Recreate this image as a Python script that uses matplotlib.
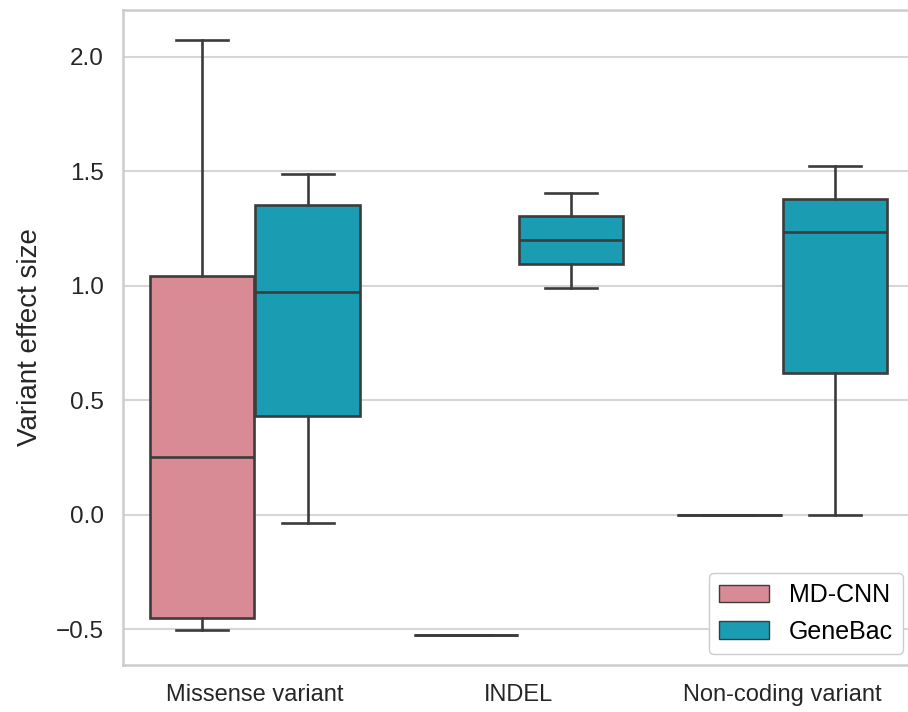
import matplotlib
matplotlib.use("Agg")
import matplotlib.pyplot as plt
from matplotlib.patches import Patch

# categories and models
categories = ['Missense variant', 'INDEL', 'Non-coding variant']
models = ['MD-CNN', 'GeneBac']
colors = ['#d88b94', '#1a9db2']

# box statistics: (whislo, q1, median, q3, whishi) per category
mdcnn_whislo = [-0.503, -0.526, 0.0]
mdcnn_q1 = [-0.451, -0.526, 0.0]
mdcnn_med = [0.251, -0.526, 0.0]
mdcnn_q3 = [1.041, -0.526, 0.0]
mdcnn_whishi = [2.075, -0.526, 0.0]

genebac_whislo = [-0.037, 0.992, 0.0]
genebac_q1 = [0.430, 1.097, 0.618]
genebac_med = [0.971, 1.202, 1.237]
genebac_q3 = [1.355, 1.303, 1.381]
genebac_whishi = [1.490, 1.407, 1.525]

plt.rcParams['font.family'] = ['Liberation Sans', 'DejaVu Sans']

fig = plt.figure(figsize=(9.08, 7.12), dpi=100)
ax = fig.add_axes([123 / 908, 47 / 712, 791 / 908, 655 / 712])

edge = '#3c3c3c'
lw = 1.9


def make_stats(lo, q1, med, q3, hi):
    return [dict(whislo=a, q1=b, med=c, q3=d, whishi=e, fliers=[])
            for a, b, c, d, e in zip(lo, q1, med, q3, hi)]


series = [
    make_stats(mdcnn_whislo, mdcnn_q1, mdcnn_med, mdcnn_q3, mdcnn_whishi),
    make_stats(genebac_whislo, genebac_q1, genebac_med, genebac_q3, genebac_whishi),
]
offsets = [-0.2, 0.2]
width = 0.395

for stats, off, col in zip(series, offsets, colors):
    ax.bxp(stats, positions=[i + off for i in range(len(categories))],
           widths=width, patch_artist=True, showfliers=False,
           capwidths=width / 2, manage_ticks=False,
           boxprops=dict(facecolor=col, edgecolor=edge, linewidth=lw),
           medianprops=dict(color=edge, linewidth=lw),
           whiskerprops=dict(color=edge, linewidth=lw),
           capprops=dict(color=edge, linewidth=lw))

ax.set_xlim(-0.5, 2.5)
ax.set_ylim(-0.657, 2.205)
ax.set_xticks(range(len(categories)))
ax.set_xticklabels(categories)
ax.set_yticks([-0.5, 0.0, 0.5, 1.0, 1.5, 2.0])
ax.set_ylabel('Variant effect size', fontsize=20, labelpad=9, color='#262626')
ax.tick_params(axis='x', length=0, pad=14, labelsize=17, labelcolor='#262626')
ax.tick_params(axis='y', length=0, pad=14, labelsize=17.5, labelcolor='#262626')

ax.grid(axis='y', color='#d6d6d6', linewidth=1.5)
ax.set_axisbelow(True)
for s in ax.spines.values():
    s.set_color('#cccccc')
    s.set_linewidth(1.8)

handles = [Patch(facecolor=c, edgecolor=edge, linewidth=1.0, label=m)
           for m, c in zip(models, colors)]
ax.legend(handles=handles, loc='lower right', fontsize=18,
          frameon=True, edgecolor='#cccccc', framealpha=1.0,
          borderaxespad=0.45)

fig.savefig('out.png', dpi=100)
